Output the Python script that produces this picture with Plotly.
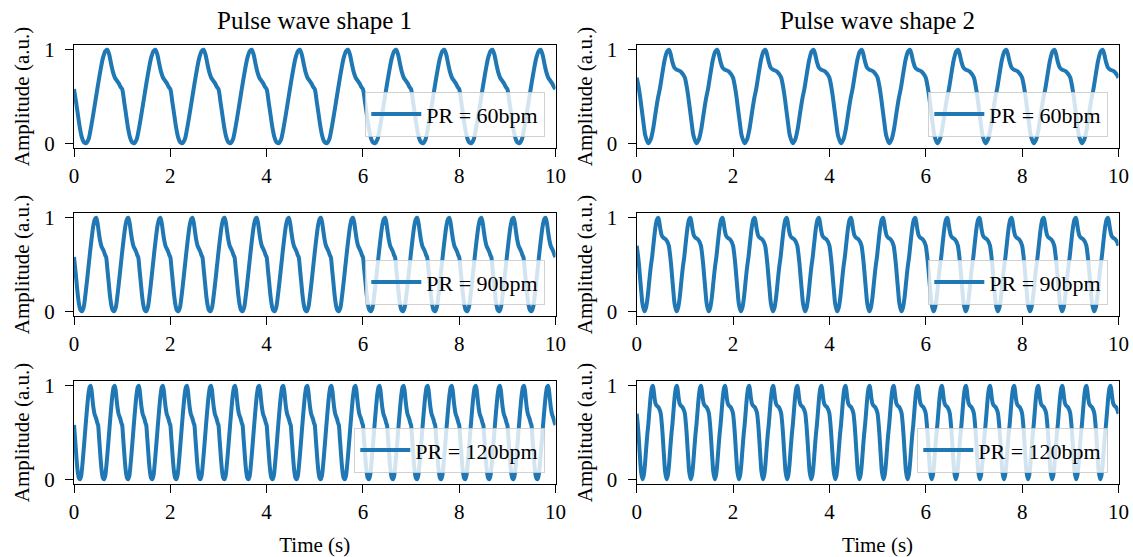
import plotly.graph_objects as go

# ---- data ----
PULSE_RATES = [60, 90, 120]          # bpm
SHAPE_TITLES = ["Pulse wave shape 1", "Pulse wave shape 2"]

# one period of each pulse wave (phase 0..1, normalised amplitude)
PHASE1 = [0.00, 0.04, 0.08, 0.12, 0.16, 0.20, 0.25, 0.30, 0.35, 0.40, 0.45,
          0.50, 0.55, 0.60, 0.65, 0.69, 0.73, 0.77, 0.81, 0.85, 0.89, 0.93, 0.97]
WAVE1 = [0.58, 0.45, 0.31, 0.17, 0.07, 0.015, 0.00, 0.04, 0.16, 0.31, 0.47,
         0.63, 0.78, 0.91, 0.985, 1.00, 0.95, 0.85, 0.76, 0.70, 0.67, 0.64, 0.60]

PHASE2 = [0.00, 0.04, 0.07, 0.10, 0.14, 0.18, 0.24, 0.29, 0.34, 0.39, 0.44,
          0.48, 0.53, 0.58, 0.63, 0.67, 0.70, 0.74, 0.78, 0.82, 0.86, 0.90, 0.94, 0.97]
WAVE2 = [0.70, 0.60, 0.50, 0.38, 0.22, 0.08, 0.00, 0.04, 0.15, 0.32, 0.48,
         0.58, 0.74, 0.89, 0.98, 1.00, 0.96, 0.87, 0.81, 0.79, 0.78, 0.77, 0.75, 0.73]

X_TICKS = [0, 2, 4, 6, 8, 10]
Y_TICKS = [0, 1]
DURATION = 10

SHAPES = [(PHASE1, WAVE1), (PHASE2, WAVE2)]

# ---- layout geometry (pixels) ----
W, H = 1133, 557
COL_X = [(74, 555.5), (636.7, 1118.5)]
ROW_Y = [(45, 148), (213, 316), (381, 484)]

BLUE = "#1f77b4"
FONT = "Liberation Serif, Times New Roman, serif"

fig = go.Figure()
layout = dict(
    width=W, height=H, margin=dict(l=0, r=0, t=0, b=0, autoexpand=False),
    paper_bgcolor="white", plot_bgcolor="white",
    font=dict(family=FONT, size=21, color="black"),
    showlegend=True, annotations=[],
)

idx = 0
for r, pr in enumerate(PULSE_RATES):
    period = 60.0 / pr
    n = int(round(DURATION / period))
    for c, (phase, wave) in enumerate(SHAPES):
        idx += 1
        sfx = "" if idx == 1 else str(idx)
        t = [(k + p) * period for k in range(n) for p in phase] + [DURATION]
        y = list(wave) * n + [wave[0]]
        lg = "legend" + sfx
        fig.add_trace(go.Scatter(
            x=t, y=y, mode="lines", name=f"PR = {pr}bpm",
            line=dict(color=BLUE, width=4, shape="spline", smoothing=0.8),
            xaxis="x" + sfx, yaxis="y" + sfx, legend=lg,
        ))
        x0, x1 = COL_X[c]
        y0, y1 = ROW_Y[r]
        common = dict(showline=True, linecolor="black", linewidth=1.3, mirror=True,
                      ticks="outside", ticklen=8, tickwidth=1.3, tickcolor="black",
                      showgrid=False, zeroline=False, automargin=False,
                      tickfont=dict(family=FONT, size=21, color="black"))
        xa = dict(domain=[x0 / W, x1 / W], range=[0, DURATION], tickvals=X_TICKS,
                  anchor="y" + sfx, ticklabelstandoff=1, **common)
        if r == len(PULSE_RATES) - 1:
            xa["title"] = dict(text="Time (s)", standoff=13,
                               font=dict(family=FONT, size=21))
        ya = dict(domain=[1 - y1 / H, 1 - y0 / H], range=[-0.05, 1.05], tickvals=Y_TICKS,
                  anchor="x" + sfx, ticklabelstandoff=6,
                  title=dict(text="Amplitude (a.u.)", standoff=8,
                             font=dict(family=FONT, size=21)),
                  **common)
        layout["xaxis" + sfx] = xa
        layout["yaxis" + sfx] = ya
        layout[lg] = dict(
            x=(x1 - 10.5) / W, y=1 - (y1 - 11) / H, xanchor="right", yanchor="bottom",
            bgcolor="rgba(255,255,255,0.8)", bordercolor="rgba(204,204,204,0.9)",
            borderwidth=1.3, itemwidth=50,
            font=dict(family=FONT, size=22, color="black"),
        )
        if r == 0:
            layout["annotations"].append(dict(
                text=SHAPE_TITLES[c], x=(x0 + x1) / 2 / W, y=1 - 20 / H,
                xref="paper", yref="paper", xanchor="center", yanchor="middle",
                showarrow=False, font=dict(family=FONT, size=25, color="black"),
            ))

fig.update_layout(**layout)
fig.write_html("out.html")
